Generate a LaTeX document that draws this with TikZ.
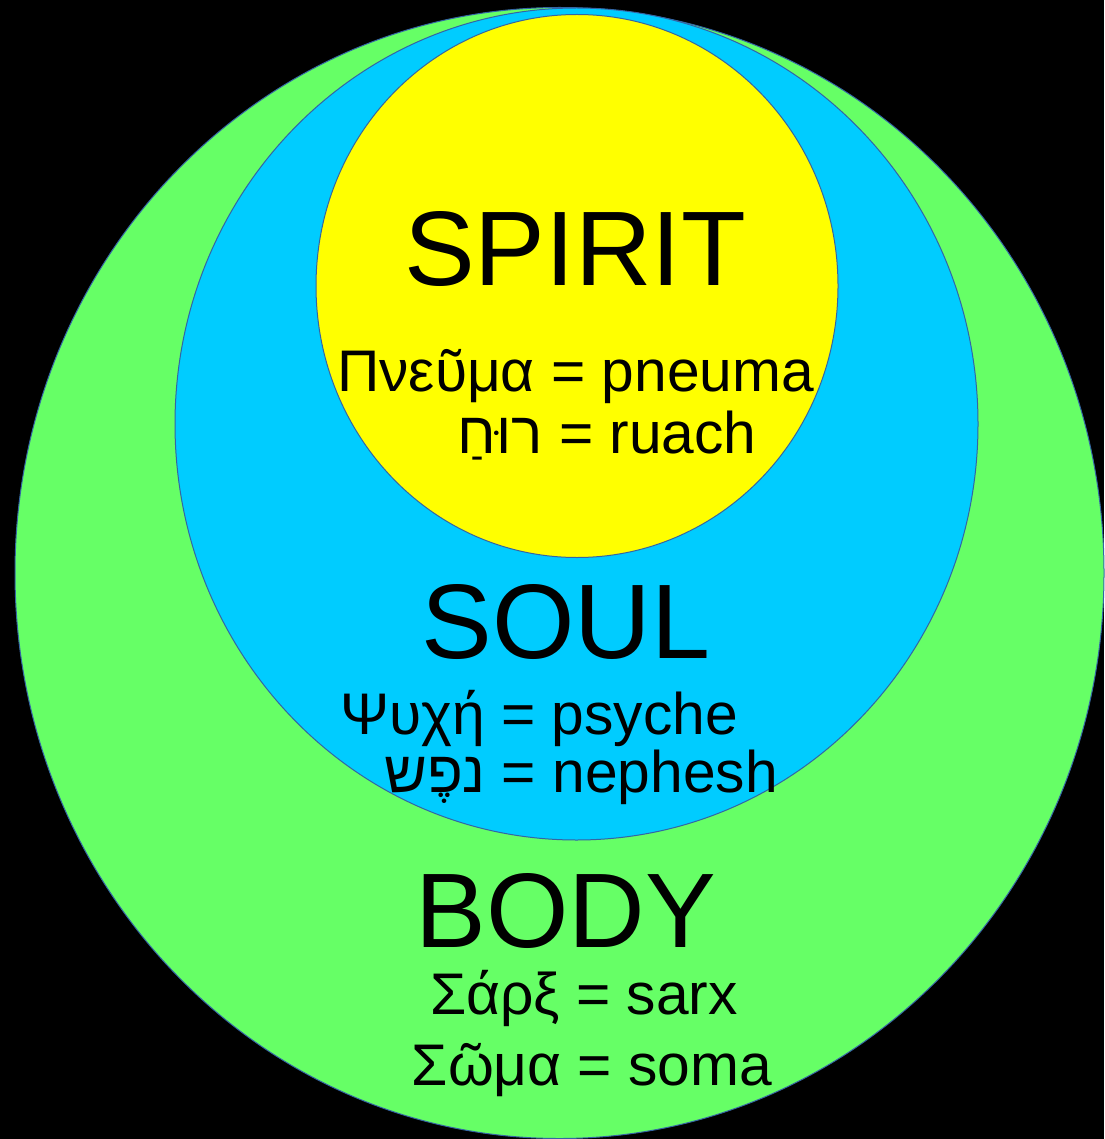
\documentclass[tikz,border=0pt]{standalone}
\usepackage{fontspec}
\setmainfont{Liberation Sans}
\newfontfamily\hebfont[Script=Hebrew]{Liberation Sans}
\TeXXeTstate=1
\usepackage{xcolor}
\definecolor{cBody}{HTML}{66FF66}
\definecolor{cSoul}{HTML}{00CCFF}
\definecolor{cSpirit}{HTML}{FFFF00}
\definecolor{cEdge}{HTML}{3465A4}
\usepackage{tikz}
\tikzset{
  layer-body/.style={fill=cBody,draw=cEdge,line width=1pt},
  layer-soul/.style={fill=cSoul,draw=cEdge,line width=1pt},
  layer-spirit/.style={fill=cSpirit,draw=cEdge,line width=1pt},
  label-title/.style={anchor=base,inner sep=0pt,font=\fontsize{106}{120}\selectfont},
  label-word/.style={anchor=base,inner sep=0pt,font=\fontsize{58.7}{66}\selectfont},
}

\begin{document}
\begin{tikzpicture}[x=1pt,y=-1pt]
  \fill[black] (0,0) rectangle (1104,1139);
  \useasboundingbox (0,0) rectangle (1104,1139);
  % the three nested layers
  \filldraw[layer-body] (559.5,573) ellipse [x radius=544.5pt,y radius=565.5pt];
  \filldraw[layer-soul] (576.5,424) ellipse [x radius=401.5pt,y radius=416pt];
  \filldraw[layer-spirit] (577,286) ellipse [x radius=261pt,y radius=271.5pt];
  % spirit
  \node[label-title] (spirit) at (575,286) {SPIRIT};
  \node[label-word] (pneuma) at (575.5,391) {Πνεῦμα = pneuma};
  \node[label-word] (ruach) at (607,453) {{\hebfont\beginR רוּחַ\endR} = ruach};
  % soul
  \node[label-title] (soul) at (566,658) {SOUL};
  \node[label-word] (psyche) at (539,734) {Ψυχή = psyche};
  \node[label-word] (nephesh) at (581,792) {{\hebfont\beginR נפֶש\endR} = nephesh};
  % body
  \node[label-title] (body) at (566,947) {BODY};
  \node[label-word] (sarx) at (584,1014) {Σάρξ = sarx};
  \node[label-word] (soma) at (592,1085) {Σῶμα = soma};
\end{tikzpicture}
\end{document}
